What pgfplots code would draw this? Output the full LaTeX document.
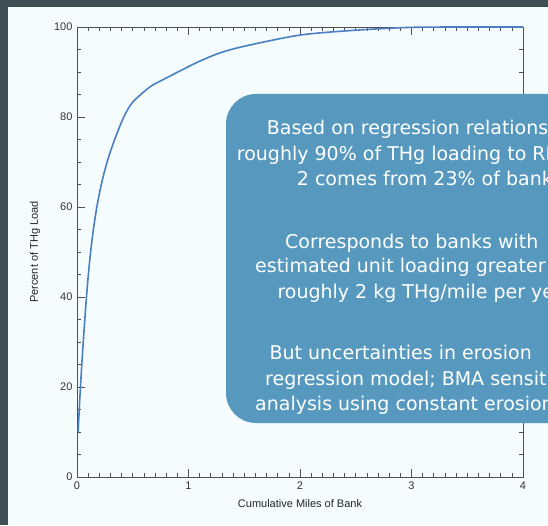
\documentclass[border=0pt]{standalone}
\usepackage{pgfplots}
\pgfplotsset{compat=1.18}
\usepackage{fontspec}
\setmainfont{Liberation Sans}
\newfontfamily\boxfont{DejaVu Sans}
\definecolor{bg}{HTML}{3D4F55}
\definecolor{page}{HTML}{F4FCFD}
\definecolor{boxc}{HTML}{5799BE}
\definecolor{curve}{HTML}{4A80C2}
\definecolor{axc}{HTML}{505050}
\begin{document}
\begin{tikzpicture}[x=1pt,y=1pt]
\useasboundingbox (0,0) rectangle (548,525);
\clip (0,0) rectangle (548,525);
\fill[bg] (0,0) rectangle (548,525);
\fill[page] (8,0) rectangle (548,518);
\begin{axis}[
  at={(77pt,48pt)}, anchor=south west,
  scale only axis, width=446pt, height=450pt,
  xmin=0, xmax=4, ymin=0, ymax=100,
  xtick={0,1,2,3,4}, ytick={0,20,40,60,80,100},
  minor x tick num=9, minor y tick num=3,
  tick align=inside, tick pos=both,
  major tick length=8pt, minor tick length=4pt,
  axis line style={axc, line width=0.8pt},
  tick style={axc, line width=0.7pt},
  tick label style={font=\fontsize{11}{13}\selectfont, text=black!80},
  label style={font=\fontsize{11}{13}\selectfont, text=black!85},
  /pgf/number format/assume math mode=true,
  xticklabel style={yshift=-1pt},
  yticklabel style={xshift=-1pt},
  xlabel={Cumulative Miles of Bank},
  ylabel={Percent of THg Load},
  xlabel style={at={(axis description cs:0.5,-0.058)}, anchor=center},
  ylabel style={at={(axis description cs:-0.094,0.5)}, anchor=center},
]
\addplot[curve, line width=1.6pt, smooth, tension=0.5] coordinates {
(0.010,10) (0.020,15) (0.031,20) (0.043,25) (0.056,30) (0.070,35) (0.085,40)
(0.102,45) (0.122,50) (0.147,55) (0.178,60) (0.218,65) (0.270,70) (0.338,75)
(0.420,80) (0.50,83.3) (0.655,86.7) (0.78,88.4) (0.953,90.6) (1.10,92.4)
(1.30,94.4) (1.55,96.0) (2.0,98.2) (2.45,99.2) (2.97,99.9) (3.5,100) (4,100)
};
\end{axis}
\fill[boxc, rounded corners=30pt] (226,102) rectangle (620,431);
\begin{scope}[every node/.style={anchor=base west, inner sep=0pt, text=white, font=\boxfont\fontsize{19}{23}\selectfont}]
\node at (266.7,390) {Based on regression relationship,};
\node at (236.7,364.3) {roughly 90\% of THg loading to RM};
\node at (296.7,339) {2 comes from 23\% of banks};
\node at (285,276.7) {Corresponds to banks with};
\node at (255,252.3) {estimated unit loading greater than};
\node at (277.3,226.7) {roughly 2 kg THg/mile per year};
\node at (269.3,165.7) {But uncertainties in erosion};
\node at (265,140) {regression model; BMA sensitivity};
\node at (255,114.3) {analysis using constant erosion};
\end{scope}
\end{tikzpicture}
\end{document}
